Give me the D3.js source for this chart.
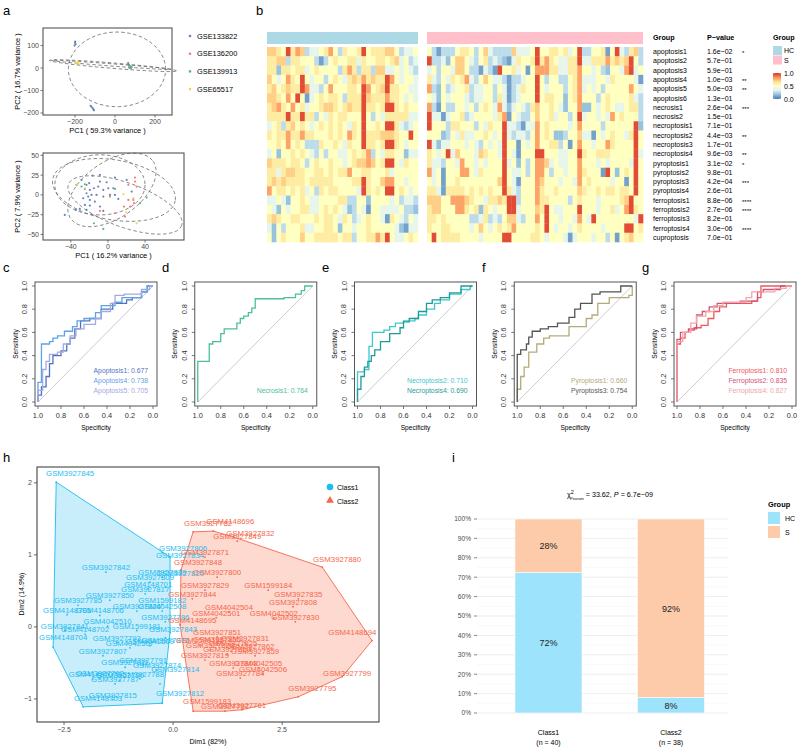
<!DOCTYPE html>
<html><head><meta charset="utf-8">
<script src="https://cdn.jsdelivr.net/npm/d3@7"></script>
<style>html,body{margin:0;padding:0;background:#fff;}svg{display:block;font-family:"Liberation Sans",Arial,Helvetica,sans-serif;}</style>
</head><body><svg id="fig" width="798" height="748"></svg>
<script>
// ===================== DATA =====================
// Panel a
const pcaGroups = ["GSE133822","GSE136200","GSE139913","GSE65517"];
const pcaGroupColors = ["#6b86bb","#ee7e80","#5db590","#f3d04d"];
const pcaTopPoints = [
 [-200,112,0],[-197,106,0],[-202,100,0],[-199,118,0],[-118,-172,0],[-112,-178,0],[-108,-184,0],[-122,-168,0],[-105,-188,0],[66,22,0],[70,14,0],[77,3,0],[73,6,0],
 [74,4,1],[78,7,1],[71,1,1],
 [72,2,2],[76,5,2],[80,0,2],[84,4,2],[78,-2,2],[74,8,2],[-186,18,2],
 [-192,24,3],[-188,22,3],[-184,27,3],[-190,19,3],[-183,21,3]
];
// ellipses: [cx, cy, ax, ay, bx, by] (centre + semi-axis vectors, data units)
const pcaTopEllipses = [[10,-6,243,0,0,166],[-10,10.5,318,-23.5,0,12],[-20,14,300,-20,0,5]];
const pcaBottomPoints = [
 [-16.6,24.5,0],[-8.6,25.3,0],[-28.5,19.0,0],[-20.2,14.8,0],[-8.6,16.9,0],[-1.4,16.0,0],[-15.1,8.4,0],[-10.5,10.5,0],[-24.9,7.6,0],[-19.5,6.3,0],[-5.0,6.3,0],[0.4,8.4,0],[5.8,8.4,0],[-23.1,2.1,0],[-17.7,0,0],[-12.3,0,0],[-26.7,-4.2,0],[-21.3,-2.1,0],[-5.0,-2.1,0],[2.2,0,0],[7.6,0,0],[-19.5,-6.3,0],[-14.1,-8.4,0],[-24.9,-12.7,0],[-19.5,-13.5,0],[-30.3,-17.7,0],[-23.1,-19.0,0],[-34.6,-19.0,0],[-46.5,-25.3,0],[-8.6,-14.8,0],[-5.0,-20.3,0],[11.2,-5.1,0],[20.2,19.0,0],[7.6,21.9,0],[25.6,4.2,0],[-23.1,12.7,0],[-33.9,12.7,0],
 [29.2,21.9,1],[29.2,16.9,1],[22.0,12.7,1],[31.0,10.5,1],[2.2,-2.1,1],[22.0,-6.3,1],[27.4,-6.3,1],[23.8,-14.8,1],[17.3,-14.8,1],[7.6,-23.2,1],[18.4,-27.4,1],[-8.6,-20.3,1],[28.1,-10.5,1],
 [-24.9,13.5,2],[-28.5,10.5,2],[7.6,7.6,2],[41.8,-3.4,2],[34.6,-10.5,2],[-5.0,-43.0,2],[-15.1,-35.9,2],
 [-33.2,12.7,3],[-24.9,8.4,3],[16.6,0.8,3],[27.4,-4.2,3],[19.5,-21.9,3],[31.0,-35.9,3]
];
const pcaBottomEllipses = [[6.5,6.3,66.0,-13.6,-5.6,-37.3],[18.4,-12.7,61.0,-26.0,-8.1,-26.2],[4.3,6.3,44.3,36.3,17.4,-29.0],[-8.6,12.7,48.6,0,0,-38.0]];

// Panel b
const hmRows = ["apoptosis1","apoptosis2","apoptosis3","apoptosis4","apoptosis5","apoptosis6","necrosis1","necrosis2","necroptosis1","necroptosis2","necroptosis3","necroptosis4","pyroptosis1","pyroptosis2","pyroptosis3","pyroptosis4","ferroptosis1","ferroptosis2","ferroptosis3","ferroptosis4","cuproptosis"];
const hmPvalues = ["1.6e\u221202","5.7e\u221201","5.9e\u221201","1.0e\u221203","5.0e\u221203","1.3e\u221201","2.6e\u221204","1.5e\u221201","7.1e\u221201","4.4e\u221203","1.7e\u221201","9.6e\u221203","3.1e\u221202","9.8e\u221201","4.2e\u221204","2.6e\u221201","8.8e\u221206","2.7e\u221206","8.2e\u221201","3.0e\u221206","7.0e\u221201"];
const hmStars = ["*","","","**","**","","***","","","**","","**","*","","***","","****","****","","****",""];
// one digit per sample; digit -> scaled value via hmDigitValues
const hmDigitValues = [0.02,0.1,0.18,0.26,0.37,0.5,0.6,0.7,0.79,0.95];
const hmHC = [
"77659687344568536556956667753445","66773665553135655664655665674534","66266566456555536863663774454543","75458659545535654676867669854554",
"67567669844358555665985679665544","77658595145656653666976668665454","67865856455677656766966569965655","66669669663546566555953546666644",
"45636756545656565465955659964345","65668668665556565865966677765595","55658565333655654655966569965455","45255656543535544565683546655244",
"76665665356556554567787569954655","66467766556656566855665556455555","67676666566666555566965578855455","85665656453656655554965659956545",
"44542556544555566335525555453443","54254556644565654235415544445332","67655665556566546534565541654354","42535556445566525545565555542144",
"52565557556666656635566869544565"];
const hmS = [
"5313335665357433337444595566564593355615943673","9334257754356343214655696865446694466686767953","4535547753314319556451588866446685545325548945",
"6435465684357544313345595355335684445546555541","8325345563445535413465595455535684545355555854","5425455543445536413455595665525685553565555643",
"8315335545356548424543675565425582254565445663","9441455634555546815433575564553594554548565553","9555366555354655944314485655554585555355555592",
"5552354644556545943443585652235574415456554695","9424455545435454955154585566351585545586555595","6545947555476554954155599555445596556665555594",
"6443554855454555945253588745445585554545555495","8451555885465555954453588535545586555195256595","5451556555555557954155587555455485655554551595",
"6641666656565655964355586556555576556566566595","7775588876554667699355586655553565554555567955","6775558865626545599455576954455595554556458965",
"6656555553346343577435585955455485495555555549","6556655554575456568555565954554565555455559956","5956666555545555995555665455541455545535156755"];
const hmGroups = ["HC","S"];
const hmGroupColors = ["#add8e6","#ffc0cb"];
const hmPalette = ["#4575b4","#91bfdb","#e0f3f8","#ffffbf","#fee090","#fc8d59","#d73027"];
const hmLegendTicks = [1.0,0.5,0.0];

// Panels c-g : ROC curves, [specificity, sensitivity]
const rocApoptosis1 = [[1,0],[1,0.06],[0.97,0.06],[0.97,0.13],[0.93,0.13],[0.93,0.22],[0.9,0.22],[0.9,0.33],[0.87,0.33],[0.87,0.4],[0.8,0.4],[0.8,0.44],[0.75,0.44],[0.75,0.5],[0.72,0.5],[0.72,0.55],[0.68,0.55],[0.68,0.63],[0.63,0.63],[0.63,0.7],[0.55,0.7],[0.55,0.72],[0.45,0.72],[0.45,0.8],[0.35,0.8],[0.35,0.85],[0.23,0.85],[0.23,0.88],[0.18,0.88],[0.18,0.9],[0.1,0.9],[0.1,0.95],[0.05,0.95],[0.05,1],[0,1]];
const rocApoptosis4 = [[1,0],[1,0.17],[0.97,0.17],[0.97,0.5],[0.9,0.5],[0.9,0.52],[0.87,0.52],[0.87,0.55],[0.83,0.55],[0.83,0.57],[0.77,0.57],[0.77,0.61],[0.7,0.61],[0.7,0.65],[0.66,0.65],[0.66,0.7],[0.6,0.7],[0.6,0.72],[0.5,0.72],[0.5,0.77],[0.45,0.77],[0.45,0.83],[0.33,0.83],[0.33,0.86],[0.27,0.86],[0.27,0.9],[0.1,0.9],[0.1,0.95],[0.05,0.95],[0.05,1],[0,1]];
const rocApoptosis5 = [[1,0],[1,0.1],[0.96,0.1],[0.96,0.28],[0.93,0.28],[0.93,0.35],[0.9,0.35],[0.9,0.41],[0.83,0.41],[0.83,0.43],[0.78,0.43],[0.78,0.5],[0.72,0.5],[0.72,0.57],[0.67,0.57],[0.67,0.63],[0.6,0.63],[0.6,0.67],[0.5,0.67],[0.5,0.72],[0.45,0.72],[0.45,0.78],[0.37,0.78],[0.37,0.85],[0.33,0.85],[0.33,0.92],[0.25,0.92],[0.25,0.93],[0.1,0.93],[0.1,0.97],[0.03,0.97],[0.03,1],[0,1]];
const rocNecrosis1 = [[1,0],[1,0.35],[0.9,0.35],[0.9,0.5],[0.87,0.5],[0.87,0.52],[0.8,0.52],[0.8,0.59],[0.77,0.59],[0.77,0.63],[0.66,0.63],[0.66,0.68],[0.63,0.68],[0.63,0.72],[0.6,0.72],[0.6,0.74],[0.56,0.74],[0.56,0.77],[0.53,0.77],[0.53,0.81],[0.5,0.81],[0.5,0.89],[0.25,0.89],[0.25,0.9],[0.15,0.9],[0.15,0.93],[0.1,0.93],[0.1,0.96],[0.07,0.96],[0.07,1],[0,1]];
const rocNecroptosis2 = [[1,0],[1,0.26],[0.94,0.26],[0.94,0.28],[0.9,0.28],[0.9,0.48],[0.87,0.48],[0.87,0.6],[0.77,0.6],[0.77,0.62],[0.72,0.62],[0.72,0.65],[0.67,0.65],[0.67,0.68],[0.6,0.68],[0.6,0.7],[0.5,0.7],[0.5,0.72],[0.47,0.72],[0.47,0.75],[0.4,0.75],[0.4,0.8],[0.33,0.8],[0.33,0.85],[0.28,0.85],[0.28,0.88],[0.2,0.88],[0.2,0.93],[0.1,0.93],[0.1,0.97],[0.02,0.97],[0.02,1],[0,1]];
const rocNecroptosis4 = [[1,0],[1,0.11],[0.97,0.11],[0.97,0.22],[0.94,0.22],[0.94,0.3],[0.91,0.3],[0.91,0.35],[0.88,0.35],[0.88,0.4],[0.85,0.4],[0.85,0.45],[0.8,0.45],[0.8,0.52],[0.72,0.52],[0.72,0.59],[0.63,0.59],[0.63,0.64],[0.6,0.64],[0.6,0.69],[0.55,0.69],[0.55,0.72],[0.47,0.72],[0.47,0.78],[0.4,0.78],[0.4,0.85],[0.35,0.85],[0.35,0.88],[0.28,0.88],[0.28,0.9],[0.2,0.9],[0.2,0.94],[0.1,0.94],[0.1,1],[0,1]];
const rocPyroptosis1 = [[1,0],[1,0.11],[0.97,0.11],[0.97,0.22],[0.94,0.22],[0.94,0.3],[0.9,0.3],[0.9,0.43],[0.83,0.43],[0.83,0.5],[0.77,0.5],[0.77,0.55],[0.72,0.55],[0.72,0.57],[0.55,0.57],[0.55,0.65],[0.4,0.65],[0.4,0.72],[0.35,0.72],[0.35,0.75],[0.3,0.75],[0.3,0.85],[0.2,0.85],[0.2,0.9],[0.03,0.9],[0.03,0.92],[0,0.92],[0,1]];
const rocPyroptosis3 = [[1,0],[1,0.41],[0.97,0.41],[0.97,0.45],[0.92,0.45],[0.92,0.5],[0.9,0.5],[0.9,0.56],[0.87,0.56],[0.87,0.61],[0.8,0.61],[0.8,0.63],[0.73,0.63],[0.73,0.65],[0.65,0.65],[0.65,0.68],[0.55,0.68],[0.55,0.73],[0.5,0.73],[0.5,0.8],[0.45,0.8],[0.45,0.85],[0.35,0.85],[0.35,0.93],[0.28,0.93],[0.28,0.95],[0.1,0.95],[0.1,1],[0,1]];
const rocFerroptosis1 = [[1,0],[1,0.5],[0.97,0.5],[0.97,0.55],[0.93,0.55],[0.93,0.6],[0.9,0.6],[0.9,0.62],[0.85,0.62],[0.85,0.64],[0.79,0.64],[0.79,0.66],[0.73,0.66],[0.73,0.72],[0.68,0.72],[0.68,0.78],[0.63,0.78],[0.63,0.82],[0.57,0.82],[0.57,0.85],[0.35,0.85],[0.35,0.87],[0.3,0.87],[0.3,0.9],[0.27,0.9],[0.27,1],[0,1]];
const rocFerroptosis2 = [[1,0],[1,0.54],[0.97,0.54],[0.97,0.6],[0.9,0.6],[0.9,0.63],[0.83,0.63],[0.83,0.75],[0.78,0.75],[0.78,0.78],[0.72,0.78],[0.72,0.82],[0.65,0.82],[0.65,0.85],[0.45,0.85],[0.45,0.87],[0.3,0.87],[0.3,0.95],[0.25,0.95],[0.25,0.97],[0.1,0.97],[0.1,1],[0,1]];
const rocFerroptosis4 = [[1,0],[1,0.52],[0.95,0.52],[0.95,0.6],[0.88,0.6],[0.88,0.68],[0.83,0.68],[0.83,0.74],[0.75,0.74],[0.75,0.78],[0.68,0.78],[0.68,0.83],[0.6,0.83],[0.6,0.86],[0.4,0.86],[0.4,0.9],[0.35,0.9],[0.35,0.95],[0.15,0.95],[0.15,0.98],[0.05,0.98],[0.05,1],[0,1]];
const rocNames = [["Apoptosis1","Apoptosis4","Apoptosis5"],["Necrosis1"],["Necroptosis2","Necroptosis4"],["Pyroptosis1","Pyroptosis3"],["Ferroptosis1","Ferroptosis2","Ferroptosis4"]];
const rocAUC = [["0.677","0.738","0.705"],["0.764"],["0.710","0.690"],["0.660","0.754"],["0.810","0.835","0.827"]];
const rocColors = [["#4f74bf","#5fa3e3","#a3a9e6"],["#4cc09a"],["#3ec7cc","#1f9c98"],["#b5aa7c","#555555"],["#f0565a","#d1537a","#f1a6a8"]];
const rocCurves = [[rocApoptosis1,rocApoptosis4,rocApoptosis5],[rocNecrosis1],[rocNecroptosis2,rocNecroptosis4],[rocPyroptosis1,rocPyroptosis3],[rocFerroptosis1,rocFerroptosis2,rocFerroptosis4]];
const rocTicks = [1.0,0.8,0.6,0.4,0.2,0.0];

// Panel h : [sample, Dim1, Dim2, labelDim1?, labelDim2?]
const class1Samples = [
 ["GSM3927845",-2.68,2.01,-2.36,2.07],["GSM3927806",-0.25,1.03,0.23,1.03],["GSM3927834",-0.07,0.97,0.16,0.93],["GSM3927876",-0.07,-0.08,-0.18,-0.25],
 ["GSM3927812",-0.25,-1.06,0.16,-0.99],["GSM4148703",-2.06,-1.11,-1.72,-1.06],["GSM4148704",-2.75,-0.28,-2.52,-0.21],
 ["GSM3927842",-1.54,0.76],["GSM3927839",-0.25,0.69],["GSM3927820",-0.18,0.55,0.16,0.68],["GSM4148701",-0.57,0.53],["GSM3927817",-0.64,0.46],
 ["GSM1599182",-0.25,0.31],["GSM4042508",-0.25,0.22],["GSM3927826",-0.83,0.22],["GSM3927786",-0.18,0.07],["GSM1599181",-0.83,-0.05],
 ["GSM3927843",-0.18,-0.15,0.0,-0.10],["GSM4042509",-0.53,-0.26],["GSM3927793",-1.29,-0.22],["GSM4042507",-0.99,-0.29],["GSM3927807",-1.61,-0.40],
 ["GSM3927791",-0.69,-0.53],["GSM3927874",-0.37,-0.60],["GSM3927814",-0.30,-0.79,0.05,-0.65],["GSM3927788",-0.76,-0.72],["GSM3927787",-1.33,-0.79],
 ["GSM3927815",-1.38,-1.01],["GSM3927850",-1.45,0.37],["GSM3927785",-2.18,0.30],["GSM4148706",-1.68,0.16],["GSM4148705",-2.43,0.17],
 ["GSM4042510",-1.50,0.01],["GSM3927841",-2.48,-0.05],["GSM4148702",-2.02,-0.10],["GSM4148707",-1.84,-0.72],["GSM3927790",-1.22,-0.74],
 ["GSM3927792",-1.68,-0.71],["GSM3927809",-0.53,0.62],["GSM3927811",-1.10,-0.56]
];
const class2Samples = [
 ["GSM3927782",0.46,1.32,0.80,1.38],["GSM4148696",0.92,1.33,1.31,1.40],["GSM3927832",1.38,1.25,1.77,1.24],["GSM3927880",3.42,0.83,3.76,0.88],
 ["GSM4148694",4.56,-0.19,4.11,-0.14],["GSM3927799",3.88,-0.69,3.99,-0.71],["GSM3927795",2.87,-0.97,3.19,-0.92],["GSM1599183",0.46,-1.17,0.78,-1.10],
 ["GSM4148695",0.16,0.03,0.44,0.03],["GSM3927848",0.18,0.79,0.57,0.83],
 ["GSM3927849",1.47,1.19],["GSM3927871",0.73,0.97],["GSM3927800",1.01,0.69],["GSM3927829",0.73,0.51],["GSM1599184",2.18,0.51],
 ["GSM3927844",0.44,0.39],["GSM3927835",2.87,0.39],["GSM3927808",2.75,0.28],["GSM4042504",1.28,0.21],["GSM4042501",0.99,0.13],
 ["GSM4042502",2.31,0.12],["GSM3927830",2.80,0.07],["GSM3927851",1.01,-0.14],["GSM3927831",1.65,-0.22],["GSM3927855",1.01,-0.24],
 ["GSM3927825",1.38,-0.29],["GSM3927857",1.24,-0.38],["GSM4042505",1.95,-0.57],["GSM4042506",2.06,-0.65],["GSM3927803",1.38,-0.57],
 ["GSM3927784",1.54,-0.71],["GSM3927761",1.58,-1.15],["GSM3927797",1.19,-1.17],["GSM1599185",0.62,-0.25],["GSM3927862",1.77,-0.33],
 ["GSM3927819",0.73,-0.46],["GSM3927824",0.85,-0.32],["GSM3927859",1.88,-0.40]
];
const clusterNames = ["Class1","Class2"];
const clusterColors = ["#1dbcf0","#f5674c"];
const clusterFills = ["#c9eefb","#fdd9d0"];
const dimTicksX = [-2.5,0,2.5];
const dimTicksY = [-1,0,1,2];

// Panel i
const barClasses = ["Class1","Class2"];
const barSizes = ["(n = 40)","(n = 38)"];
const barGroups = ["HC","S"];
const barGroupColors = ["#9de3fc","#fdcaaa"];
const barHC = [0.725,0.079];
const barS = [0.275,0.921];
const barLabelsHC = ["72%","8%"];
const barLabelsS = ["28%","92%"];
const pctTicks = [0,0.1,0.2,0.3,0.4,0.5,0.6,0.7,0.8,0.9,1.0];

// ===================== DRAW =====================
const svg = d3.select("#fig");
const GRAY = "#4d4d4d";
function txt(g,x,y,s,size,opt){
  opt = opt||{};
  const t = g.append("text").attr("x",x).attr("y",y).text(s).style("font-size",size+"px").attr("fill",opt.fill||"#000");
  if(opt.anchor) t.attr("text-anchor",opt.anchor);
  if(opt.weight) t.style("font-weight",opt.weight);
  if(opt.rotate!==undefined) t.attr("transform",`rotate(${opt.rotate},${x},${y})`);
  if(opt.italic) t.style("font-style","italic");
  return t;
}
// panel letters
[["a",3,15],["b",256,15],["c",3,272],["d",162,272],["e",322,272],["f",482,272],["g",642,272],["h",3,462],["i",452,462]]
 .forEach(([s,x,y])=>txt(svg,x,y,s,13,{}));

// ---------- panel a ----------
function ellipsePath(e,xs,ys){
  const [cx,cy,ax,ay,bx,by]=e;
  const pts=d3.range(0,121).map(i=>{const t=i/120*2*Math.PI;return [xs(cx+ax*Math.cos(t)+bx*Math.sin(t)),ys(cy+ay*Math.cos(t)+by*Math.sin(t))];});
  return d3.line()(pts)+"Z";
}
function pcaPanel(pts,ells,xd,yd,box,xt,yt,xlab,ylab){
  const g=svg.append("g");
  const xs=d3.scaleLinear().domain(xd).range([box[0],box[1]]);
  const ys=d3.scaleLinear().domain(yd).range([box[3],box[2]]);
  g.selectAll("path.el").data(ells).join("path").attr("d",e=>ellipsePath(e,xs,ys)).attr("fill","none").attr("stroke","#666").attr("stroke-width",0.8).attr("stroke-dasharray","3.5,2.5");
  g.selectAll("circle").data(pts).join("circle").attr("cx",d=>xs(d[0])).attr("cy",d=>ys(d[1])).attr("r",1.1).attr("fill",d=>pcaGroupColors[d[2]]);
  g.append("rect").attr("x",box[0]).attr("y",box[2]).attr("width",box[1]-box[0]).attr("height",box[3]-box[2]).attr("fill","none").attr("stroke","#555").attr("stroke-width",1.1);
  xt.forEach(v=>{g.append("line").attr("x1",xs(v)).attr("x2",xs(v)).attr("y1",box[3]).attr("y2",box[3]+2.5).attr("stroke","#555").attr("stroke-width",0.8);
    txt(g,xs(v),box[3]+9,d3.format("")(v).replace("-","\u2212"),7,{anchor:"middle",fill:GRAY});});
  yt.forEach(v=>{g.append("line").attr("x1",box[0]-2.5).attr("x2",box[0]).attr("y1",ys(v)).attr("y2",ys(v)).attr("stroke","#555").attr("stroke-width",0.8);
    txt(g,box[0]-4,ys(v)+2.5,d3.format("")(v).replace("-","\u2212"),7,{anchor:"end",fill:GRAY});});
  txt(g,(box[0]+box[1])/2,box[3]+18,xlab,7.4,{anchor:"middle"});
  txt(g,19.5,(box[2]+box[3])/2,ylab,7.4,{anchor:"middle",rotate:-90});
}
pcaPanel(pcaTopPoints,pcaTopEllipses,[-360,285],[-209,178],[43,172,28,115],[-200,0,200],[-200,-100,0,100],"PC1 ( 59.3% variance )","PC2 ( 16.7% variance )");
pcaPanel(pcaBottomPoints,pcaBottomEllipses,[-70,82],[-57,53],[43,184,153,240],[-40,0,40],[-50,-25,0,25,50],"PC1 ( 16.2% variance )","PC2 ( 7.9% variance )");
pcaGroups.forEach((n,i)=>{
  const y=36+i*17.7;
  svg.append("circle").attr("cx",190).attr("cy",y).attr("r",1.3).attr("fill",pcaGroupColors[i]);
  txt(svg,197,y+2.6,n,7.4,{});
});

// ---------- panel b ----------
(function(){
  const g=svg.append("g");
  const color=d3.scaleLinear().domain(d3.range(7).map(i=>i/6)).range(hmPalette).interpolate(d3.interpolateRgb);
  const rowS=d3.scaleBand().domain(d3.range(hmRows.length)).range([47,242]);
  const colHC=d3.scaleBand().domain(d3.range(hmHC[0].length)).range([267,418]);
  const colS=d3.scaleBand().domain(d3.range(hmS[0].length)).range([427,643]);
  [[hmHC,colHC],[hmS,colS]].forEach(([rows,cs],gi)=>{
    g.append("rect").attr("x",cs.range()[0]).attr("y",32).attr("width",cs.range()[1]-cs.range()[0]).attr("height",12).attr("fill",hmGroupColors[gi]);
    rows.forEach((str,r)=>{
      str.split("").forEach((ch,c)=>{
        g.append("rect").attr("x",cs(c)).attr("y",rowS(r)).attr("width",cs.bandwidth()+0.3).attr("height",rowS.bandwidth()+0.3).attr("fill",color(hmDigitValues[+ch]));
      });
    });
  });
  txt(g,653,40,"Group",7.2,{weight:"bold"});
  txt(g,707,40,"P\u2212value",7.2,{weight:"bold"});
  hmRows.forEach((n,i)=>{
    const y=rowS(i)+rowS.bandwidth()/2+2.5;
    txt(g,653,y,n,7,{});
    txt(g,707,y,hmPvalues[i],7,{});
    if(hmStars[i]) txt(g,742,y+1,hmStars[i],6,{});
  });
  txt(g,773,40,"Group",7.2,{weight:"bold"});
  hmGroups.forEach((n,i)=>{
    g.append("rect").attr("x",773).attr("y",46+i*9.5).attr("width",9).attr("height",9).attr("fill",hmGroupColors[i]);
    txt(g,784,53+i*9.5,n,7,{});
  });
  const defs=svg.append("defs");
  const lg=defs.append("linearGradient").attr("id","hmgrad").attr("x1",0).attr("x2",0).attr("y1",1).attr("y2",0);
  hmPalette.forEach((c,i)=>lg.append("stop").attr("offset",(i/6*100)+"%").attr("stop-color",c));
  const ly=d3.scaleLinear().domain([0,1]).range([99,73]);
  g.append("rect").attr("x",773).attr("y",ly(1)).attr("width",8).attr("height",ly(0)-ly(1)).attr("fill","url(#hmgrad)");
  hmLegendTicks.forEach(v=>{txt(g,784,ly(v)+2.5,v.toFixed(1),7,{});
    g.append("line").attr("x1",773).attr("x2",775).attr("y1",ly(v)).attr("y2",ly(v)).attr("stroke","#fff").attr("stroke-width",0.6);
    g.append("line").attr("x1",779).attr("x2",781).attr("y1",ly(v)).attr("y2",ly(v)).attr("stroke","#fff").attr("stroke-width",0.6);});
})();

// ---------- panels c-g ----------
rocCurves.forEach((curves,p)=>{
  const ox=35+p*159.75;
  const g=svg.append("g");
  const xs=d3.scaleLinear().domain([1,0]).range([ox+3,ox+118]);
  const ys=d3.scaleLinear().domain([0,1]).range([402,286]);
  g.append("line").attr("x1",xs(1)).attr("y1",ys(0)).attr("x2",xs(0)).attr("y2",ys(1)).attr("stroke","#b5b5b5").attr("stroke-width",0.7);
  const line=d3.line().x(d=>xs(d[0])).y(d=>ys(d[1]));
  curves.forEach((c,k)=>g.append("path").attr("d",line(c)).attr("fill","none").attr("stroke",rocColors[p][k]).attr("stroke-width",1.3));
  g.append("rect").attr("x",ox).attr("y",282).attr("width",122).attr("height",124).attr("fill","none").attr("stroke","#555").attr("stroke-width",1);
  rocTicks.forEach(v=>{
    g.append("line").attr("x1",xs(v)).attr("x2",xs(v)).attr("y1",406).attr("y2",409).attr("stroke","#555").attr("stroke-width",0.8);
    txt(g,xs(v),418,v.toFixed(1),7.4,{anchor:"middle",fill:"#333"});
    g.append("line").attr("x1",ox-3).attr("x2",ox).attr("y1",ys(v)).attr("y2",ys(v)).attr("stroke","#555").attr("stroke-width",0.8);
    txt(g,ox-8,ys(v),v.toFixed(1),7.4,{anchor:"middle",fill:"#333",rotate:-90});
  });
  txt(g,ox+61,429.5,"Specificity",6.6,{anchor:"middle"});
  txt(g,ox-17.5,344,"Sensitivity",6.6,{anchor:"middle",rotate:-90});
  const n=curves.length;
  rocNames[p].forEach((nm,k)=>txt(g,ox+113,392.5-(n-1-k)*10,nm+": "+rocAUC[p][k],6.8,{anchor:"end",fill:rocColors[p][k]}));
});

// ---------- panel h ----------
(function(){
  const g=svg.append("g");
  const xs=d3.scaleLinear().domain([-3.12,4.72]).range([37,379]);
  const ys=d3.scaleLinear().domain([-1.32,2.22]).range([722,467]);
  [class1Samples,class2Samples].forEach((S,k)=>{
    const hull=d3.polygonHull(S.map(d=>[xs(d[1]),ys(d[2])]));
    g.append("path").attr("d","M"+hull.join("L")+"Z").attr("fill",clusterFills[k]).attr("stroke",clusterColors[k]).attr("stroke-width",0.9);
  });
  [class1Samples,class2Samples].forEach((S,k)=>{
    S.forEach(d=>{
      g.append("circle").attr("cx",xs(d[1])).attr("cy",ys(d[2])).attr("r",0.9).attr("fill",clusterColors[k]);
    });
  });
  [class1Samples,class2Samples].forEach((S,k)=>{
    S.forEach(d=>{
      const lx=d.length>3?d[3]:d[1], ly=d.length>3?d[4]:d[2];
      txt(g,xs(lx),ys(ly)-2,d[0],7.8,{anchor:"middle",fill:clusterColors[k]});
    });
  });
  g.append("rect").attr("x",37).attr("y",467).attr("width",342).attr("height",255).attr("fill","none").attr("stroke","#444").attr("stroke-width",1.1);
  dimTicksX.forEach(v=>{g.append("line").attr("x1",xs(v)).attr("x2",xs(v)).attr("y1",722).attr("y2",725).attr("stroke","#444").attr("stroke-width",0.8);
    txt(g,xs(v),732,d3.format(".1f")(v),7,{anchor:"middle",fill:GRAY});});
  dimTicksY.forEach(v=>{g.append("line").attr("x1",34).attr("x2",37).attr("y1",ys(v)).attr("y2",ys(v)).attr("stroke","#444").attr("stroke-width",0.8);
    txt(g,32,ys(v)+2.5,d3.format("")(v),7,{anchor:"end",fill:GRAY});});
  txt(g,208,744,"Dim1 (82%)",7,{anchor:"middle"});
  txt(g,24,594,"Dim2 (14.9%)",7,{anchor:"middle",rotate:-90});
  g.append("circle").attr("cx",330).attr("cy",487).attr("r",3.3).attr("fill",clusterColors[0]);
  g.append("path").attr("d",d3.symbol(d3.symbolTriangle,26)()).attr("transform","translate(330,500.5)").attr("fill",clusterColors[1]);
  clusterNames.forEach((n,i)=>txt(g,337,490+i*13.5,n,7,{}));
})();

// ---------- panel i ----------
(function(){
  const g=svg.append("g");
  const ys=d3.scaleLinear().domain([0,1]).range([713,519]);
  const xs=d3.scaleBand().domain(barClasses).range([477,742.5]).paddingInner(0.453).paddingOuter(0.31);
  d3.range(0,1.0001,0.05).forEach(v=>{
    const major=Math.round(v*100)%10===0;
    g.append("line").attr("x1",477).attr("x2",728).attr("y1",ys(v)).attr("y2",ys(v)).attr("stroke",major?"#ebebeb":"#f5f5f5").attr("stroke-width",major?0.9:0.6);
  });
  pctTicks.forEach(v=>{
    g.append("line").attr("x1",474).attr("x2",477).attr("y1",ys(v)).attr("y2",ys(v)).attr("stroke","#555").attr("stroke-width",0.7);
    txt(g,471,ys(v)+2.3,d3.format(".0%")(v),6.6,{anchor:"end",fill:GRAY});
  });
  barClasses.forEach((c,i)=>{
    const x=xs(c), w=xs.bandwidth();
    g.append("rect").attr("x",x).attr("y",ys(barHC[i])).attr("width",w).attr("height",ys(0)-ys(barHC[i])).attr("fill",barGroupColors[0]).attr("stroke","#fff").attr("stroke-width",0.6);
    g.append("rect").attr("x",x).attr("y",ys(1)).attr("width",w).attr("height",ys(barHC[i])-ys(1)).attr("fill",barGroupColors[1]).attr("stroke","#fff").attr("stroke-width",0.6);
    txt(g,x+w/2,ys(barHC[i]/2)+3.3,barLabelsHC[i],9,{anchor:"middle",fill:"#222"});
    txt(g,x+w/2,ys(barHC[i]+barS[i]/2)+3.3,barLabelsS[i],9,{anchor:"middle",fill:"#222"});
    txt(g,x+w/2,735,c,7,{anchor:"middle"});
    txt(g,x+w/2,745,barSizes[i],7,{anchor:"middle"});
  });
  const t=g.append("text").attr("x",610).attr("y",497).attr("text-anchor","middle").style("font-size","7.2px");
  t.append("tspan").text("\u03c7");
  t.append("tspan").attr("dy",-3.5).style("font-size","5.5px").text("2");
  t.append("tspan").attr("dx",-3.5).attr("dy",6).style("font-size","3.6px").text("Pearson");
  t.append("tspan").attr("dy",-2.5).text(" = 33.62, ");
  t.append("tspan").style("font-style","italic").text("P");
  t.append("tspan").text(" = 6.7e\u221209");
  txt(g,768,507,"Group",7.4,{weight:"bold"});
  barGroups.forEach((n,i)=>{
    g.append("rect").attr("x",768).attr("y",512+i*14).attr("width",12).attr("height",12).attr("fill",barGroupColors[i]);
    txt(g,785,521+i*14,n,7,{});
  });
})();
</script></body></html>
